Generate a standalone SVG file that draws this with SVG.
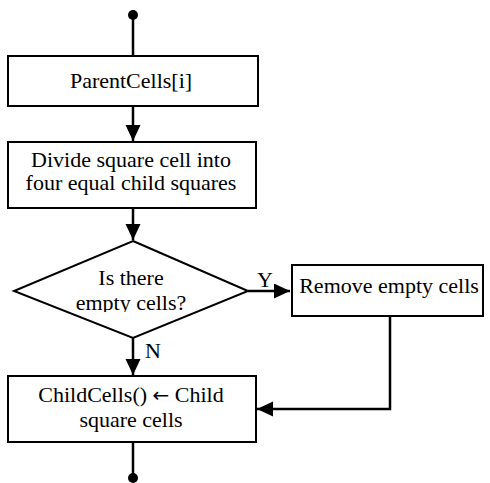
<svg xmlns="http://www.w3.org/2000/svg" width="490" height="483" viewBox="0 0 490 483">
<style>
.box{fill:#fff;stroke:#000;stroke-width:2}
.t{font-family:"Liberation Serif","Times New Roman",serif;font-size:22px;fill:#000}
.c{text-anchor:middle}
.wire{fill:none;stroke:#000;stroke-width:2.5}
.arr{font-family:"DejaVu Sans",sans-serif;font-size:20px}
</style>
<defs>
<marker id="ah" markerUnits="userSpaceOnUse" markerWidth="17" markerHeight="16" refX="16" refY="7.5" orient="auto">
<path d="M0,0 L16,7.5 L0,15 z" fill="#000"/>
</marker>
<clipPath id="dclip"><rect x="0" y="230" width="260" height="82"/></clipPath>
</defs>
<rect width="490" height="483" fill="#fff"/>
<g id="connectors">
<circle cx="133" cy="15" r="5" fill="#000"/>
<line class="wire" x1="133" y1="15" x2="133" y2="56"/>
<line class="wire" x1="133" y1="106" x2="133" y2="141" marker-end="url(#ah)"/>
<line class="wire" x1="133" y1="208" x2="133" y2="240" marker-end="url(#ah)"/>
<line class="wire" x1="248" y1="291" x2="290" y2="291" marker-end="url(#ah)"/>
<line class="wire" x1="133" y1="338" x2="133" y2="375" marker-end="url(#ah)"/>
<polyline class="wire" points="390,316 390,409 257,409" marker-end="url(#ah)"/>
<line class="wire" x1="133" y1="442" x2="133" y2="478"/>
<circle cx="133" cy="478" r="5" fill="#000"/>
<text class="t" x="257" y="287">Y</text>
<text class="t" x="145" y="358">N</text>
</g>
<g id="parent">
<rect class="box" x="8" y="56" width="250" height="50"/>
<text class="t c" x="131" y="88">ParentCells[i]</text>
</g>
<g id="divide">
<rect class="box" x="8" y="142" width="248" height="66"/>
<text class="t c" x="131" y="167">Divide square cell into</text>
<text class="t c" x="131" y="190">four equal child squares</text>
</g>
<g id="decision">
<polygon class="box" points="133,241 248,291 133,338 14,291"/>
<g clip-path="url(#dclip)">
<text class="t c" x="131" y="285">Is there</text>
<text class="t c" x="131" y="310">empty cells?</text>
</g>
</g>
<g id="remove">
<rect class="box" x="292" y="265" width="191" height="51"/>
<text class="t c" x="389" y="293">Remove empty cells</text>
</g>
<g id="child">
<rect class="box" x="8" y="376" width="248" height="66"/>
<text class="t c" x="131" y="402">ChildCells() <tspan class="arr">←</tspan> Child</text>
<text class="t c" x="131" y="427">square cells</text>
</g>
</svg>
